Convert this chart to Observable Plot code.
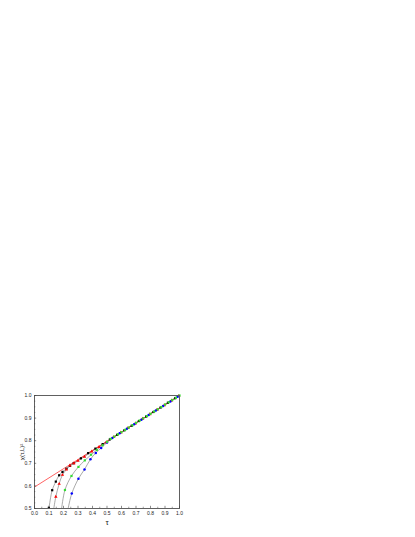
<!DOCTYPE html>
<html>
<head>
<meta charset="utf-8">
<script src="https://cdn.jsdelivr.net/npm/d3@7"></script>
<script src="https://cdn.jsdelivr.net/npm/@observablehq/plot@0.6"></script>
<style>
  html, body { margin: 0; padding: 0; background: #fff; }
  #chart svg { display: block; }
</style>
</head>
<body>
<div id="chart"></div>
<script>
// --- data ---
const xTicks = [0.0, 0.1, 0.2, 0.3, 0.4, 0.5, 0.6, 0.7, 0.8, 0.9, 1.0];
const xMinorTicks = [0.05, 0.15, 0.25, 0.35, 0.45, 0.55, 0.65, 0.75, 0.85, 0.95];
const yTicks = [0.5, 0.6, 0.7, 0.8, 0.9, 1.0];
const yMinorTicks = [0.525, 0.55, 0.575, 0.625, 0.65, 0.675, 0.725, 0.75, 0.775, 0.825, 0.85, 0.875, 0.925, 0.95, 0.975];

// linear fit line (red)
const fitTau = [0.0, 1.0];
const fitChi = [0.595, 1.0];

// series (markers)
const tauBlack = [0.099,0.122,0.147,0.170,0.193,0.220,0.245,0.270,0.320,0.370,0.420,0.470,0.520,0.570,0.620,0.670,0.720,0.770,0.820,0.870,0.920,0.970];
const chiBlack = [0.503,0.581,0.619,0.647,0.662,0.676,0.689,0.700,0.722,0.745,0.765,0.785,0.806,0.826,0.846,0.866,0.887,0.907,0.927,0.947,0.968,0.988];

const tauRed = [0.147,0.170,0.193,0.220,0.244,0.272,0.300,0.345,0.395,0.445,0.495,0.545,0.595,0.645,0.695,0.745,0.795,0.845,0.895,0.945,0.995];
const chiRed = [0.552,0.609,0.649,0.672,0.690,0.700,0.711,0.729,0.752,0.772,0.793,0.816,0.836,0.856,0.876,0.897,0.917,0.937,0.957,0.978,0.998];

const tauGreen = [0.210,0.255,0.303,0.347,0.390,0.430,0.470,0.500,0.525,0.550,0.575,0.600,0.625,0.650,0.675,0.700,0.725,0.750,0.775,0.800,0.825,0.850,0.875,0.900,0.925,0.950,0.975,1.000];
const chiGreen = [0.582,0.644,0.684,0.713,0.738,0.759,0.780,0.795,0.808,0.818,0.828,0.838,0.848,0.858,0.868,0.879,0.889,0.899,0.909,0.919,0.929,0.939,0.949,0.960,0.970,0.980,0.990,1.000];

const tauBlue = [0.257,0.303,0.345,0.386,0.423,0.460,0.500,0.537,0.587,0.637,0.687,0.737,0.787,0.837,0.887,0.937,0.987];
const chiBlue = [0.566,0.632,0.673,0.718,0.746,0.768,0.792,0.812,0.833,0.853,0.873,0.893,0.914,0.934,0.954,0.974,0.995];

// where the grey guide curves meet the bottom axis (below first marker)
const startTau = {black: 0.097, red: 0.133, green: 0.187, blue: 0.232};
const startChi = {black: 0.5, red: 0.5, green: 0.5, blue: 0.5};

const colors = {black: "#000000", red: "#ff0000", green: "#33dd33", blue: "#0000ff"};
const symbols = {black: "square", red: "triangle", green: "square", blue: "circle"};

// --- build tables ---
const seriesDefs = [
  ["black", tauBlack, chiBlack],
  ["red", tauRed, chiRed],
  ["blue", tauBlue, chiBlue],
  ["green", tauGreen, chiGreen]
];
const points = [];
const curves = [];
for (const [name, ts, cs] of seriesDefs) {
  curves.push({s: name, tau: startTau[name], chi: startChi[name]});
  ts.forEach((t, i) => {
    points.push({s: name, tau: t, chi: cs[i]});
    curves.push({s: name, tau: t, chi: cs[i]});
  });
}
const fit = fitTau.map((t, i) => ({tau: t, chi: fitChi[i]}));

const W = 415, H = 537;
const mL = 34, mR = 236, mT = 395, mB = 29;
const plotH = H - mT - mB;
const plotW = W - mL - mR;

const chart = Plot.plot({
  width: W,
  height: H,
  marginLeft: mL,
  marginRight: mR,
  marginTop: mT,
  marginBottom: mB,
  style: {fontFamily: "Liberation Sans, Arial, sans-serif", background: "#fff", color: "#222"},
  x: {domain: [0, 1]},
  y: {domain: [0.5, 1.0]},
  marks: [
    Plot.line(curves, {x: "tau", y: "chi", z: "s", stroke: "#707070", strokeWidth: 0.6, curve: "catmull-rom"}),
    Plot.line(fit, {x: "tau", y: "chi", stroke: "#ff2020", strokeWidth: 0.7}),
    ...seriesDefs.map(([name]) =>
      Plot.dot(points.filter(d => d.s === name), {
        x: "tau", y: "chi", r: 1.25,
        symbol: () => symbols[name],
        fill: colors[name], stroke: "none"
      })
    ),
    Plot.frame({stroke: "#606060", strokeWidth: 1}),
    // inward ticks
    Plot.tickX(xTicks, {x: d => d, insetTop: plotH - 2.2, stroke: "#404040", strokeWidth: 0.6}),
    Plot.tickX(xMinorTicks, {x: d => d, insetTop: plotH - 1.3, stroke: "#404040", strokeWidth: 0.5}),
    Plot.tickY(yTicks, {y: d => d, insetRight: plotW - 2.2, stroke: "#404040", strokeWidth: 0.6}),
    Plot.tickY(yMinorTicks, {y: d => d, insetRight: plotW - 1.3, stroke: "#404040", strokeWidth: 0.5}),
    Plot.axisX({ticks: xTicks, tickSize: 0, tickPadding: 3, tickFormat: d3.format(".1f"),
      fontSize: 5, label: null}),
    Plot.axisX({ticks: [], tickSize: 0, fontSize: 8, label: "τ", labelAnchor: "center",
      labelArrow: "none", labelOffset: 16}),
    Plot.axisY({ticks: yTicks, tickSize: 0, tickPadding: 3, tickFormat: d3.format(".1f"),
      fontSize: 5, label: null}),
    Plot.axisY({ticks: [], tickSize: 0, fontSize: 6, label: "χ(τ,L)²", labelAnchor: "center",
      labelArrow: "none", labelOffset: 15})
  ]
});
document.getElementById("chart").appendChild(chart);
</script>
</body>
</html>
